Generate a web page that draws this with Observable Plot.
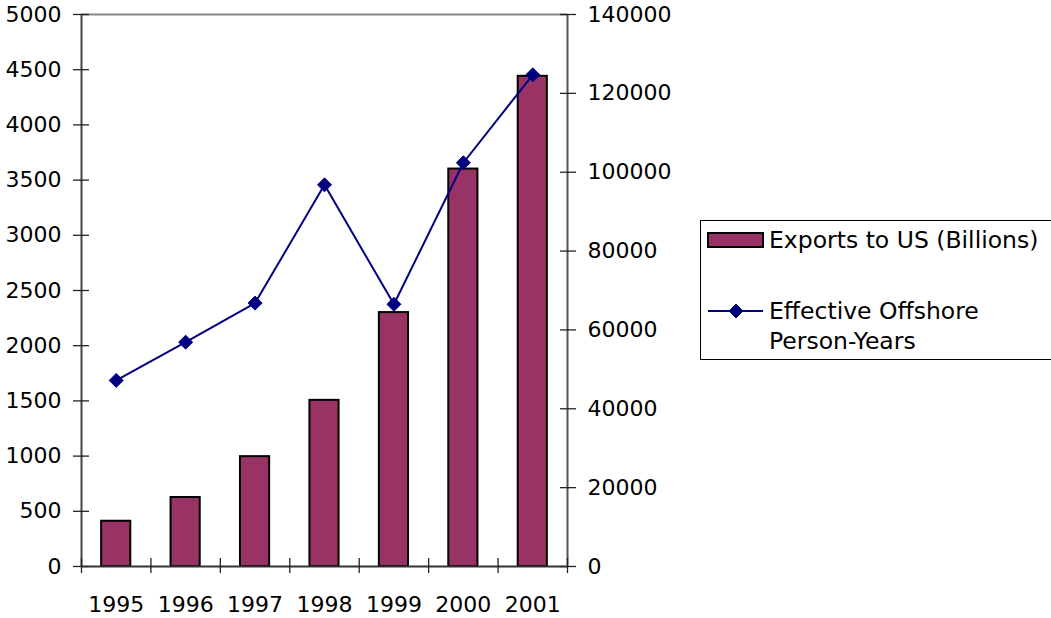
<!DOCTYPE html>
<html>
<head>
<meta charset="utf-8">
<script src="https://cdn.jsdelivr.net/npm/d3@7"></script>
<script src="https://cdn.jsdelivr.net/npm/@observablehq/plot@0.6"></script>
<style>
  html, body { margin: 0; padding: 0; background: #fff; }
  #wrap { position: relative; width: 1051px; height: 618px; overflow: hidden; font-family: "DejaVu Sans", sans-serif; }
  #legend { position: absolute; left: 0; top: 0; }
</style>
</head>
<body>
<div id="wrap"></div>
<script>
const years = [1995, 1996, 1997, 1998, 1999, 2000, 2001];
const exportsUS = [410, 625, 995, 1505, 2300, 3600, 4440];
const personYears = [47200, 56900, 66800, 96800, 66500, 102400, 124700];
const leftTicks = [0, 500, 1000, 1500, 2000, 2500, 3000, 3500, 4000, 4500, 5000];
const rightTicks = [0, 20000, 40000, 60000, 80000, 100000, 120000, 140000];
const seriesNames = ["Exports to US (Billions)", ["Effective Offshore", "Person-Years"]];

const leftMax = 5000, rightMax = 140000;
const ratio = leftMax / rightMax;
const data = years.map((y, i) => ({year: y, exp: exportsUS[i], py: personYears[i]}));
const boundaries = [years[0] - 0.5, ...years.map(y => y + 0.5)];
const barColor = "#993366";
const lineColor = "#000080";
const font = "22px";
const legendFont = "23.5px";
const family = "'DejaVu Sans', sans-serif";

const chart = Plot.plot({
  width: 1051,
  height: 618,
  marginLeft: 81,
  marginRight: 484,
  marginTop: 14,
  marginBottom: 52,
  style: {fontFamily: family, fontSize: font, color: "#000", background: "#fff"},
  x: {type: "linear", domain: [years[0] - 0.5, years[years.length - 1] + 0.5], axis: null},
  y: {domain: [0, leftMax], axis: null},
  marks: [
    Plot.ruleY([leftMax], {stroke: "#888", strokeWidth: 2}),
    Plot.rectY(data, {x1: d => d.year - 0.21, x2: d => d.year + 0.21, y: "exp", fill: barColor, stroke: "#000", strokeWidth: 2}),
    // left axis
    Plot.ruleX([years[0] - 0.5], {stroke: "#444", strokeWidth: 2}),
    Plot.axisY({anchor: "left", ticks: leftTicks, tickSize: 16, dx: 8, fill: "none", stroke: "#222", strokeWidth: 1.3, label: null}),
    Plot.axisY({anchor: "left", ticks: leftTicks, tickSize: 0, tickPadding: 20, tickFormat: d => String(d), fontSize: font, fill: "#000", label: null}),
    // right axis
    Plot.ruleX([years[years.length - 1] + 0.5], {stroke: "#555", strokeWidth: 2}),
    Plot.axisY({anchor: "right", ticks: rightTicks.map(v => v * ratio), tickSize: 16, dx: -8, fill: "none", stroke: "#222", strokeWidth: 1.3, label: null}),
    Plot.axisY({anchor: "right", ticks: rightTicks.map(v => v * ratio), tickSize: 0, tickPadding: 20, tickFormat: d => String(Math.round(d / ratio)), fontSize: font, fill: "#000", label: null}),
    // bottom axis
    Plot.ruleY([0], {stroke: "#333", strokeWidth: 2}),
    Plot.axisX({anchor: "bottom", ticks: boundaries, tickSize: 15, dy: -8, fill: "none", stroke: "#222", strokeWidth: 1.3, label: null}),
    Plot.axisX({anchor: "bottom", ticks: years, tickSize: 0, tickPadding: 30, tickFormat: d => String(d), fontSize: font, fill: "#000", label: null}),
    // line series
    Plot.line(data, {x: "year", y: d => d.py * ratio, stroke: lineColor, strokeWidth: 2}),
    Plot.dot(data, {x: "year", y: d => d.py * ratio, symbol: "diamond2", r: 6.3, fill: lineColor, stroke: lineColor, strokeWidth: 1})
  ]
});
document.getElementById("wrap").appendChild(chart);

// legend overlay
const lg = d3.select("#wrap").append("svg")
  .attr("id", "legend").attr("width", 1051).attr("height", 618)
  .style("pointer-events", "none")
  .style("font-family", family)
  .style("font-size", legendFont);
lg.append("rect").attr("x", 700.5).attr("y", 220.5).attr("width", 400).attr("height", 139)
  .attr("fill", "#fff").attr("stroke", "#000").attr("stroke-width", 1);
lg.append("rect").attr("x", 708).attr("y", 233).attr("width", 55).attr("height", 14)
  .attr("fill", barColor).attr("stroke", "#000").attr("stroke-width", 2);
lg.append("text").attr("x", 769).attr("y", 240).attr("dy", "0.36em").text(seriesNames[0]);
lg.append("line").attr("x1", 708).attr("x2", 763).attr("y1", 311).attr("y2", 311)
  .attr("stroke", lineColor).attr("stroke-width", 2);
lg.append("path").attr("d", d3.symbol(d3.symbolDiamond2, Math.PI * 6.3 * 6.3)()).attr("transform", "translate(736,311)")
  .attr("fill", lineColor).attr("stroke", lineColor);
seriesNames[1].forEach((t, i) => {
  lg.append("text").attr("x", 769).attr("y", 311 + i * 30).attr("dy", "0.36em").text(t);
});
</script>
</body>
</html>
